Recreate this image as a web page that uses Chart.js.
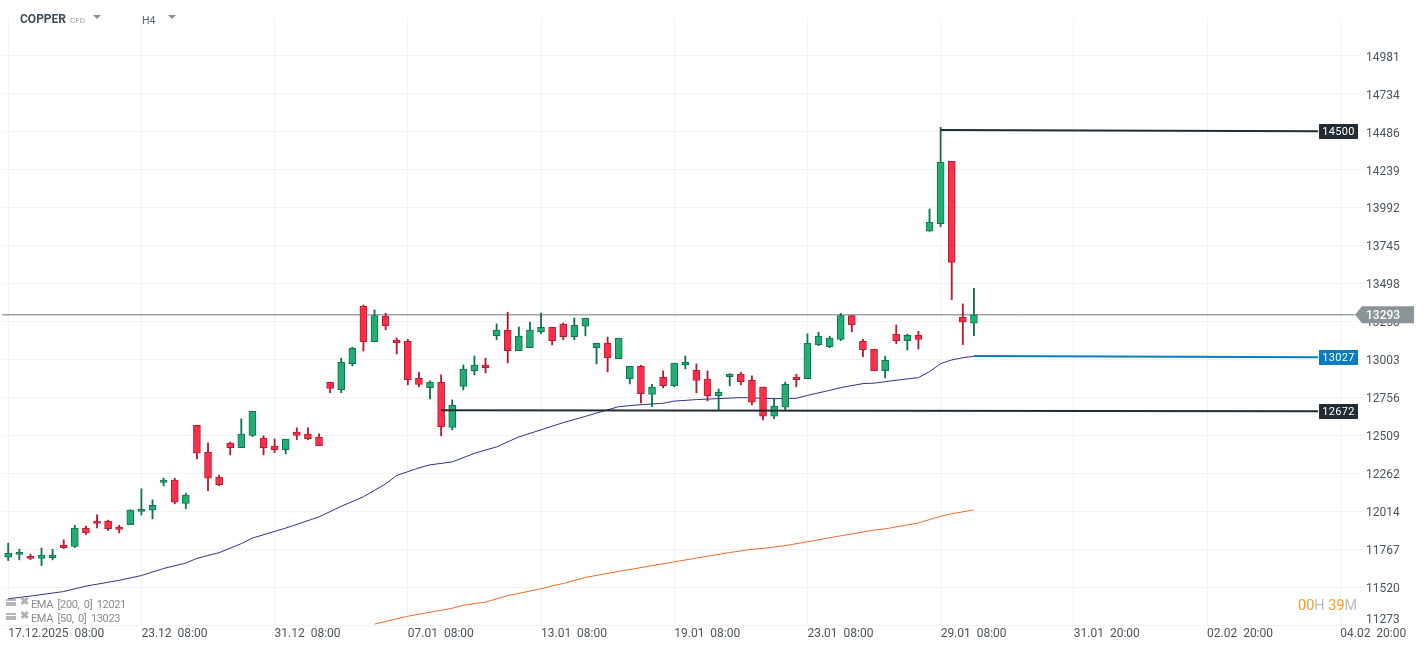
<!DOCTYPE html>
<html>
<head>
<meta charset="utf-8">
<title>COPPER H4</title>
<script src="https://cdn.jsdelivr.net/npm/chart.js@4/dist/chart.umd.min.js"></script>
<style>
    html, body { margin: 0; padding: 0; background: #fff; font-family: Roboto, sans-serif; }
    #wrap { position: relative; width: 1426px; height: 650px; overflow: hidden; }
    #chartCopper { position: absolute; left: 0; top: 0; }
    .txt { position: absolute; white-space: pre; line-height: 14px; }
    .arrow { position: absolute; width: 0; height: 0; border-left: 4.5px solid transparent; border-right: 4.5px solid transparent; border-top: 4px solid #8e8e8e; }
    .ema { color: #8a8a8a; font-size: 11px; letter-spacing: -0.4px; left: 31px; }
    .ico { position: absolute; left: 6px; width: 10px; height: 7px; border-top: 2px solid #b5b5b5; border-bottom: 3px solid #b5b5b5; box-sizing: border-box; background: linear-gradient(#fff 0 1px, #b5b5b5 1px 2px, #fff 2px); }
    .del { position: absolute; left: 20px; color: #b0b0b0; font-size: 11px; font-weight: 900; line-height: 10px; }
</style>
</head>
<body>
<div id="wrap">
    <canvas id="chartCopper" width="1426" height="650"></canvas>

    <div class="txt" style="left:20px;top:12px;font-size:12px;font-weight:700;color:#3f4d58">COPPER</div>
    <div class="txt" style="left:70px;top:14px;font-size:8px;color:#9a9a9a">CFD</div>
    <div class="arrow" style="left:93px;top:15px"></div>
    <div class="txt" style="left:142px;top:14px;font-size:10.5px;color:#5a6670">H4</div>
    <div class="arrow" style="left:168px;top:15px"></div>

    <div class="ico" style="top:599px"></div><div class="del" style="top:597px">✖</div>
    <div class="txt ema" style="top:598px">EMA  [200,  0]  12021</div>
    <div class="ico" style="top:613px"></div><div class="del" style="top:611px">✖</div>
    <div class="txt ema" style="top:612px">EMA  [50,  0]  13023</div>

    <div class="txt" style="left:1298px;top:599px;font-size:14.5px;color:#b9bcbf"><span style="color:#ff9a1f">00</span>H <span style="color:#ff9a1f">39</span>M</div>
</div>

<script>
/* ------------------------------------------------------------
   0. Data
------------------------------------------------------------ */

const opens = [
    11715, 11732, 11721, 11706, 11712, 11793, 11784, 11904, 11949, 11949,
    11910, 11927, 12012, 12021, 12201, 12216, 12064, 12574, 12399, 12236,
    12457, 12428, 12507, 12490, 12438, 12415, 12529, 12516, 12496, 12854,
    12806, 12975, 13349, 13118, 13284, 13128, 13121, 12880, 12819, 12854,
    12559, 12826, 12930, 12965, 13158, 13193, 13060, 13079, 13184, 13212,
    13232, 13151, 13219, 13079, 13108, 13008, 12878, 12958, 12774, 12887,
    12832, 12969, 12932, 12874, 12767, 12891, 12906, 12867, 12822, 12633,
    12691, 12887, 12878, 13099, 13086, 13132, 13288, 13121, 13069, 12930,
    13167, 13125, 13160, 13837, 13887, 14293, 13277, 13238
];
const highs = [
    11806, 11767, 11734, 11774, 11767, 11828, 11923, 11917, 11990, 11956,
    11923, 12023, 12160, 12088, 12229, 12229, 12132, 12574, 12459, 12249,
    12464, 12615, 12665, 12505, 12485, 12483, 12557, 12557, 12518, 12854,
    13010, 13082, 13357, 13325, 13303, 13143, 13134, 12919, 12863, 12902,
    12739, 12967, 13025, 13010, 13234, 13310, 13214, 13245, 13305, 13212,
    13240, 13273, 13271, 13108, 13149, 13141, 12958, 12965, 12841, 12928,
    12978, 13025, 12973, 12928, 12809, 12910, 12919, 12895, 12822, 12750,
    12854, 12906, 13169, 13180, 13154, 13303, 13288, 13134, 13069, 13023,
    13227, 13167, 13186, 13982, 14514, 14293, 13364, 13466
];
const lows = [
    11693, 11697, 11699, 11660, 11697, 11771, 11777, 11862, 11906, 11888,
    11873, 11927, 11990, 11964, 12179, 12062, 12031, 12355, 12147, 12181,
    12381, 12428, 12500, 12381, 12396, 12387, 12479, 12479, 12441, 12785,
    12785, 12960, 13058, 13118, 13195, 13038, 12837, 12824, 12746, 12505,
    12544, 12804, 12902, 12915, 13130, 12980, 13060, 13079, 13171, 13097,
    13130, 13130, 13156, 12973, 12921, 13008, 12843, 12719, 12695, 12817,
    12826, 12941, 12785, 12732, 12674, 12830, 12837, 12706, 12609, 12617,
    12672, 12824, 12878, 13093, 13079, 13125, 13182, 13021, 12930, 12882,
    13104, 13064, 13071, 13837, 13867, 13392, 13099, 13158
];
const closes = [
    11741, 11747, 11706, 11728, 11728, 11777, 11904, 11875, 11934, 11901,
    11895, 12021, 12027, 12053, 12216, 12073, 12119, 12392, 12229, 12187,
    12428, 12516, 12665, 12428, 12415, 12483, 12507, 12487, 12441, 12813,
    12984, 13076, 13118, 13288, 13223, 13112, 12871, 12839, 12854, 12565,
    12704, 12939, 12965, 12949, 13193, 13060, 13154, 13193, 13212, 13125,
    13151, 13225, 13271, 13108, 13014, 13141, 12958, 12780, 12822, 12832,
    12978, 12984, 12865, 12767, 12789, 12906, 12858, 12724, 12633, 12698,
    12841, 12871, 13108, 13154, 13141, 13288, 13229, 13066, 12930, 12997,
    13125, 13160, 13132, 13896, 14286, 13635, 13245, 13293
];

// EMA 50, read at these candle numbers
const ema50Index = [
    0, 2, 5, 7, 10, 12, 14, 16, 17, 19, 21, 22, 25, 28, 30, 32, 34, 35, 37, 38,
    40, 42, 44, 46, 48, 50, 52, 54, 55, 57, 59, 60, 62, 66, 69, 71, 72, 74, 75,
    77, 78, 80, 82, 83, 84, 85, 86, 87
];
const ema50 = [
    11444, 11461, 11491, 11526, 11564, 11595, 11641, 11676, 11707, 11744, 11803, 11839,
    11904, 11977, 12046, 12108, 12192, 12247, 12296, 12316, 12335, 12391, 12433, 12498,
    12544, 12591, 12632, 12674, 12695, 12708, 12717, 12731, 12741, 12754, 12747, 12749,
    12768, 12801, 12819, 12845, 12848, 12867, 12884, 12923, 12975, 12999, 13014, 13023
];

// EMA 200
const ema200Index = [
    33, 36, 40, 41, 43, 45, 48, 49, 50, 52, 55, 60, 63, 65, 67, 68, 70, 72, 75, 78, 79, 82, 84, 85, 87
];
const ema200 = [
    11279, 11330, 11382, 11402, 11422, 11464, 11509, 11528, 11543, 11583, 11622, 11684,
    11721, 11745, 11766, 11772, 11790, 11815, 11854, 11891, 11899, 11938, 11981, 11997, 12023
];

// Drawn levels: [first candle, last candle], [value there, value there]
const levelHighX = [84, 118];
const levelHigh = [14497, 14488];
const levelHighLabel = "14500";
const levelLowX = [39, 118];
const levelLow = [12672, 12665];
const levelLowLabel = "12672";
const levelEmaX = [87, 118];
const levelEma = [13025, 13017];
const levelEmaLabel = "13027";

const lastPrice = 13293;
const lastPriceLabel = "13293";

const yTickValues = [
    14981, 14734, 14486, 14239, 13992, 13745, 13498, 13250,
    13003, 12756, 12509, 12262, 12014, 11767, 11520, 11273
];
const xTickIndex = [0, 12, 24, 36, 48, 60, 72, 84, 96, 108, 120];
const xTickLabels = [
    "17.12.2025  08:00", "23.12  08:00", "31.12  08:00", "07.01  08:00",
    "13.01  08:00", "19.01  08:00", "23.01  08:00", "29.01  08:00",
    "31.01  20:00", "02.02  20:00", "04.02  20:00"
];

/* ------------------------------------------------------------
   1. Candle styling
------------------------------------------------------------ */

const COLOR_UP = "#22ad73";
const COLOR_UP_DARK = "#0f7252";
const COLOR_DOWN = "#ff2f4a";
const COLOR_DOWN_DARK = "#b01c33";
const COLOR_TEXT = "#4a545c";
const COLOR_GRID = "#f2f2f2";
const COLOR_DARK = "#232c33";
const COLOR_BLUE = "#0a7cc2";
const COLOR_LAST = "#8b9498";
const COLOR_LAST_LINE = "#6f787c";

const isUp = opens.map((o, i) => closes[i] >= o);
const wickData = highs.map((h, i) => ({ x: i, y: [lows[i], h] }));
const bodyData = opens.map((o, i) => ({ x: i, y: [o, closes[i]] }));

const toPoints = (xs, ys) => xs.map((x, i) => ({ x, y: ys[i] }));

/* ------------------------------------------------------------
   2. Price tags on the right side
------------------------------------------------------------ */

const tagPlugin = {
    id: "priceTags",
    afterDraw(chart) {
        const c = chart.ctx;
        const y = chart.scales.y;

        // bottom tick sits higher than its grid line
        c.save();
        c.font = "12px Roboto";
        c.fillStyle = COLOR_TEXT;
        c.textBaseline = "middle";
        c.textAlign = "left";
        c.fillText(String(yTickValues[yTickValues.length - 1]), 1366, 620);

        // small boxes of the drawn levels
        const boxes = [
            [levelHigh[1], levelHighLabel, COLOR_DARK],
            [levelEma[1], levelEmaLabel, COLOR_BLUE],
            [levelLow[1], levelLowLabel, COLOR_DARK]
        ];
        boxes.forEach(([value, label, color]) => {
            const py = Math.round(y.getPixelForValue(value));
            c.fillStyle = color;
            c.fillRect(1319, py - 7, 39, 15);
            c.fillStyle = "#fff";
            c.font = "11px Roboto";
            c.textAlign = "center";
            c.letterSpacing = "0.3px";
            c.fillText(label, 1338.5, py + 1);
        });

        // last price arrow tag
        const py = y.getPixelForValue(lastPrice);
        c.fillStyle = COLOR_LAST;
        c.beginPath();
        c.moveTo(1355, py);
        c.lineTo(1362, py - 8.5);
        c.lineTo(1414, py - 8.5);
        c.lineTo(1414, py + 8.5);
        c.lineTo(1362, py + 8.5);
        c.closePath();
        c.fill();
        c.fillStyle = "#fff";
        c.font = "500 12px Roboto";
        c.textAlign = "left";
        c.letterSpacing = "0px";
        c.fillText(lastPriceLabel, 1366, py + 1);
        c.restore();
    }
};

/* ------------------------------------------------------------
   3. Chart
------------------------------------------------------------ */

const lineBase = { type: "line", pointRadius: 0, tension: 0, fill: false };

new Chart(document.getElementById("chartCopper"), {
    type: "bar",
    data: {
        datasets: [
            { ...lineBase, label: "Last", data: [{ x: -0.56, y: lastPrice }, { x: 121.3, y: lastPrice }], borderColor: COLOR_LAST_LINE, borderWidth: 1, order: 6 },
            { ...lineBase, label: "EMA 200", data: toPoints(ema200Index, ema200), borderColor: "#f26a24", borderWidth: 1, order: 5 },
            { ...lineBase, label: "EMA 50", data: toPoints(ema50Index, ema50), borderColor: "#2e3192", borderWidth: 1, order: 4 },
            {
                label: "Wicks", data: wickData, barThickness: 1.2, grouped: false, order: 3,
                backgroundColor: isUp.map(u => u ? COLOR_UP_DARK : COLOR_DOWN_DARK), borderWidth: 0
            },
            {
                label: "Bodies", data: bodyData, barThickness: 7, grouped: false, order: 2,
                backgroundColor: isUp.map(u => u ? COLOR_UP : COLOR_DOWN),
                borderColor: isUp.map(u => u ? COLOR_UP_DARK : COLOR_DOWN_DARK),
                borderWidth: 1, borderSkipped: false
            },
            { ...lineBase, label: "Level 14500", data: toPoints(levelHighX, levelHigh), borderColor: COLOR_DARK, borderWidth: 2, order: 1 },
            { ...lineBase, label: "Level 12672", data: toPoints(levelLowX, levelLow), borderColor: COLOR_DARK, borderWidth: 2, order: 1 },
            { ...lineBase, label: "Level 13027", data: toPoints(levelEmaX, levelEma), borderColor: COLOR_BLUE, borderWidth: 2, order: 1 }
        ]
    },
    options: {
        responsive: false,
        animation: false,
        layout: { padding: { left: 2, top: 18, right: 0, bottom: 0 } },
        plugins: { legend: { display: false }, tooltip: { enabled: false } },
        scales: {
            x: {
                type: "linear",
                offset: false,
                min: -0.56,
                max: 122.05,
                afterFit(s) { s.height = 25; },
                afterBuildTicks(s) { s.ticks = xTickIndex.map(value => ({ value })); },
                grid: { color: COLOR_GRID, offset: false, drawTicks: false },
                border: { display: false },
                ticks: {
                    autoSkip: false,
                    maxRotation: 0,
                    align: "start",
                    padding: 2,
                    color: COLOR_TEXT,
                    font: { family: "Roboto", size: 12 },
                    callback: (v, i) => xTickLabels[i]
                }
            },
            y: {
                type: "linear",
                position: "right",
                min: 11273,
                max: 15226,
                afterFit(s) { s.width = 63; },
                afterBuildTicks(s) { s.ticks = yTickValues.map(value => ({ value })); },
                // labels sit 1px under their grid lines
                afterUpdate(s) {
                    const drawLabels = s.drawLabels;
                    s.drawLabels = function (area) {
                        s.ctx.save();
                        s.ctx.translate(0, 1);
                        drawLabels.call(s, area);
                        s.ctx.restore();
                    };
                },
                grid: { color: COLOR_GRID, drawTicks: false },
                border: { display: false },
                ticks: {
                    autoSkip: false,
                    padding: 3,
                    color: COLOR_TEXT,
                    font: { family: "Roboto", size: 12 },
                    // 11273 is placed by the plugin, a bit above its line
                    callback: v => v === 11273 ? "" : String(v)
                }
            }
        }
    },
    plugins: [tagPlugin]
});
</script>
</body>
</html>
